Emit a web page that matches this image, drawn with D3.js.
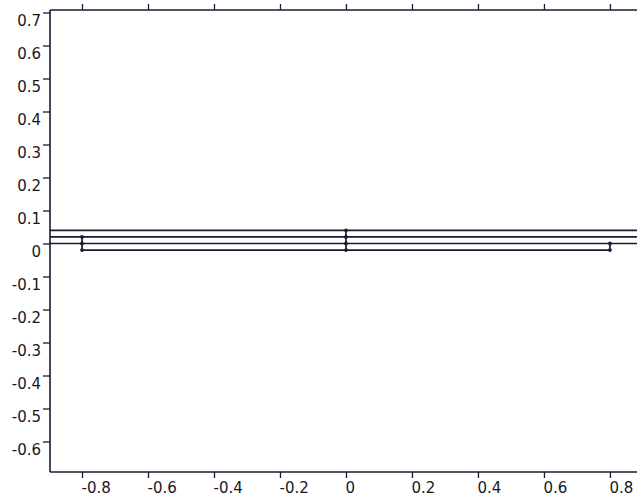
<!DOCTYPE html>
<html>
<head>
<meta charset="utf-8">
<script src="https://cdn.jsdelivr.net/npm/d3@7"></script>
<style>
  body { margin: 0; background: #fff; }
</style>
</head>
<body>
<script>
// Ticks
const xTicks = [-0.8, -0.6, -0.4, -0.2, 0, 0.2, 0.4, 0.6, 0.8]
const xTickLabels = ['-0.8', '-0.6', '-0.4', '-0.2', '0', '0.2', '0.4', '0.6', '0.8']
const yTicks = [0.7, 0.6, 0.5, 0.4, 0.3, 0.2, 0.1, 0, -0.1, -0.2, -0.3, -0.4, -0.5, -0.6]
const yTickLabels = ['0.7', '0.6', '0.5', '0.4', '0.3', '0.2', '0.1', '0', '-0.1', '-0.2', '-0.3', '-0.4', '-0.5', '-0.6']

// Horizontal edges: level, start, end
const hLevels = [0.04, 0.02, 0, -0.02]
const hStart = [-1, -1, -1, -0.8]
const hEnd = [1, 1, 1, 0.8]

// Vertical edges: position, low, high
const vPos = [-0.8, 0, 0.8]
const vLow = [-0.02, -0.02, -0.02]
const vHigh = [0.02, 0.04, 0]

// Vertices
const ptX = [-0.8, -0.8, -0.8, 0, 0, 0, 0, 0.8, 0.8]
const ptY = [0.02, 0, -0.02, 0.04, 0.02, 0, -0.02, 0, -0.02]

const width = 637
const height = 497
const mLeft = 50
const mTop = 10
const mBottom = 472
const mRight = 637
const ink = '#1a1a30'

const x = d3.scaleLinear().domain([-0.897, 0.882]).range([mLeft, mRight])
const y = d3.scaleLinear().domain([0.7076, -0.6924]).range([mTop, mBottom])

const svg = d3.select('body').append('svg')
  .attr('width', width)
  .attr('height', height)

svg.append('clipPath').attr('id', 'plot')
  .append('rect')
  .attr('x', mLeft).attr('y', mTop)
  .attr('width', mRight - mLeft).attr('height', mBottom - mTop)

const geo = svg.append('g').attr('clip-path', 'url(#plot)')

geo.selectAll('line.h')
  .data(hLevels)
  .enter()
  .append('line')
  .attr('class', 'h')
  .attr('x1', (d, i) => x(hStart[i]))
  .attr('x2', (d, i) => x(hEnd[i]))
  .attr('y1', (d) => y(d))
  .attr('y2', (d) => y(d))
  .attr('stroke', ink)
  .attr('stroke-width', 1.7)

geo.selectAll('line.v')
  .data(vPos)
  .enter()
  .append('line')
  .attr('class', 'v')
  .attr('x1', (d) => x(d))
  .attr('x2', (d) => x(d))
  .attr('y1', (d, i) => y(vLow[i]))
  .attr('y2', (d, i) => y(vHigh[i]))
  .attr('stroke', ink)
  .attr('stroke-width', 1.7)

geo.selectAll('circle')
  .data(ptX)
  .enter()
  .append('circle')
  .attr('cx', (d) => x(d))
  .attr('cy', (d, i) => y(ptY[i]))
  .attr('r', 1.9)
  .attr('fill', ink)

// Frame
const frame = svg.append('g').attr('stroke', ink).attr('stroke-width', 1.6)
frame.append('line').attr('x1', mLeft).attr('x2', mRight).attr('y1', mTop).attr('y2', mTop)
frame.append('line').attr('x1', mLeft).attr('x2', mRight).attr('y1', mBottom).attr('y2', mBottom)
frame.append('line').attr('x1', mLeft).attr('x2', mLeft).attr('y1', mTop).attr('y2', mBottom)

// Bottom axis
const xAxis = d3.axisBottom(x)
  .tickValues(xTicks)
  .tickSize(6)
  .tickFormat((d, i) => xTickLabels[i])
const gx = svg.append('g').attr('transform', `translate(0,${mBottom})`).call(xAxis)
gx.select('.domain').remove()
gx.selectAll('line').attr('stroke', ink).attr('stroke-width', 1.3)
gx.selectAll('text')
  .attr('text-anchor', 'start')
  .attr('x', -1)
  .attr('y', 21)
  .attr('dy', 0)

// Top ticks
const xTop = d3.axisTop(x).tickValues(xTicks).tickSize(6).tickFormat('')
const gt = svg.append('g').attr('transform', `translate(0,${mTop})`).call(xTop)
gt.select('.domain').remove()
gt.selectAll('line').attr('stroke', ink).attr('stroke-width', 1.3)

// Left axis
const yAxis = d3.axisLeft(y)
  .tickValues(yTicks)
  .tickSize(7)
  .tickFormat((d, i) => yTickLabels[i])
const gy = svg.append('g').attr('transform', `translate(${mLeft},0)`).call(yAxis)
gy.select('.domain').remove()
gy.selectAll('line').attr('stroke', ink).attr('stroke-width', 1.3)
gy.selectAll('text')
  .attr('text-anchor', 'end')
  .attr('x', -9)
  .attr('y', 12.5)
  .attr('dy', 0)

svg.selectAll('text')
  .attr('font-family', "'DejaVu Sans', sans-serif")
  .attr('font-size', 15)
  .attr('fill', '#18181f')
</script>
</body>
</html>
